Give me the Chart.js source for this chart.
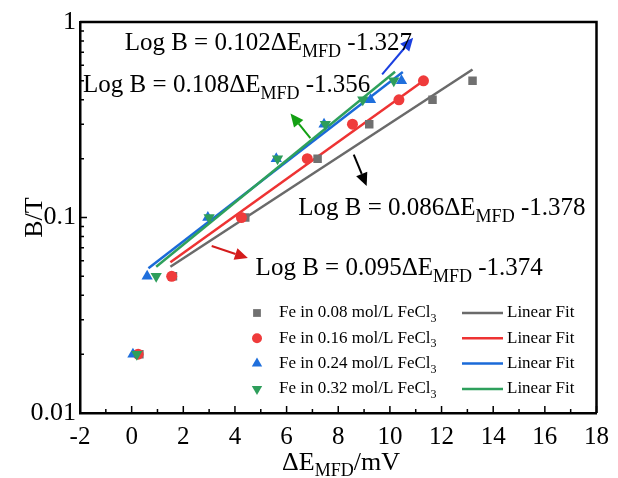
<!DOCTYPE html>
<html>
<head>
<meta charset="utf-8">
<script src="https://cdn.jsdelivr.net/npm/chart.js@4/dist/chart.umd.min.js"></script>
<style>
    html, body { margin: 0; padding: 0; background: #fff; }
    canvas { display: block; }
</style>
</head>
<body>
<canvas id="magChart" width="618" height="478"></canvas>
<script>
// Data
const concentrations = ['0.08', '0.16', '0.24', '0.32'];
const fieldB = [0.02, 0.05, 0.1, 0.2, 0.3, 0.4, 0.5];
const dE008 = [0.3, 1.6, 4.4, 7.2, 9.2, 11.65, 13.2];
const dE016 = [0.25, 1.55, 4.25, 6.8, 8.55, 10.35, 11.3];
const dE024 = [0.05, 0.6, 2.95, 5.6, 7.45, 9.25, 10.45];
const dE032 = [0.2, 0.95, 3.0, 5.65, 7.5, 8.95, 10.15];

// Linear fit end points (log B = a*dE + b)
const fitX008 = [1.5, 13.2], fitB008 = [0.056, 0.572];
const fitX016 = [1.5, 11.3], fitB016 = [0.059, 0.501];
const fitX024 = [0.65, 10.5], fitB024 = [0.055, 0.555];
const fitX032 = [0.95, 10.2], fitB032 = [0.056, 0.557];

const fitSlopes = ['0.086', '0.095', '0.102', '0.108'];
const fitIntercepts = ['-1.378', '-1.374', '-1.327', '-1.356'];

const xTicks = [-2, 0, 2, 4, 6, 8, 10, 12, 14, 16, 18];
const yTicks = [0.01, 0.1, 1];

const colors = ['#707070', '#ef3b3b', '#1f6fdc', '#2e9e5b'];
const lineColors = ['#6a6a6a', '#ee3333', '#1a6ad8', '#2ea05c'];
const arrowColors = ['#000', '#d41c1c', '#1a3fe0', '#13a013'];
const markers = ['rect', 'circle', 'triangle', 'triangle'];
const markerRot = [0, 0, 0, 180];
const markerRadius = [6, 5.5, 6.5, 6.5];

const SERIF = '"Liberation Serif", "Times New Roman", serif';

const toPts = (xs, ys) => xs.map((x, i) => ({ x: x, y: ys[i] }));

const scatterX = [dE008, dE016, dE024, dE032];
const fitXs = [fitX008, fitX016, fitX024, fitX032];
const fitBs = [fitB008, fitB016, fitB024, fitB032];

// Annotation anchors in data units (dE, B); arrows go from line toward text
const notes = [
    { idx: 0, x: 6.45, y: 0.103, tail: [8.6, 0.21], head: [9.1, 0.145] },
    { idx: 1, x: 4.8, y: 0.0508, tail: [3.1, 0.0715], head: [4.5, 0.062] },
    { idx: 2, x: -0.27, y: 0.72, tail: [9.7, 0.54], head: [10.9, 0.83] },
    { idx: 3, x: -1.88, y: 0.438, tail: [6.92, 0.255], head: [6.15, 0.34] }
];

const datasets = [];
for (let i = 0; i < 4; i++) {
    datasets.push({
        type: 'scatter',
        data: toPts(scatterX[i], fieldB),
        pointStyle: markers[i],
        rotation: markerRot[i],
        pointRadius: markerRadius[i],
        backgroundColor: colors[i],
        borderColor: colors[i],
        borderWidth: 0,
        order: 4 - i
    });
}
for (let i = 0; i < 4; i++) {
    datasets.push({
        type: 'line',
        data: toPts(fitXs[i], fitBs[i]),
        borderColor: lineColors[i],
        borderWidth: 2.5,
        pointRadius: 0,
        fill: false,
        order: 10 - i
    });
}

// draw text with a subscript part
function richText(ctx, x, y, parts, size, subSize, subShift) {
    let cx = x;
    parts.forEach(p => {
        ctx.font = (p.sub ? subSize : size) + 'px ' + SERIF;
        ctx.fillText(p.t, cx, y + (p.sub ? subShift : 0));
        cx += ctx.measureText(p.t).width;
    });
    return cx;
}

function richWidth(ctx, parts, size, subSize) {
    let w = 0;
    parts.forEach(p => {
        ctx.font = (p.sub ? subSize : size) + 'px ' + SERIF;
        w += ctx.measureText(p.t).width;
    });
    return w;
}

function arrow(ctx, x1, y1, x2, y2, color) {
    const ang = Math.atan2(y2 - y1, x2 - x1);
    const hl = 13, hw = 6;
    const bx = x2 - hl * Math.cos(ang), by = y2 - hl * Math.sin(ang);
    ctx.strokeStyle = color;
    ctx.fillStyle = color;
    ctx.lineWidth = 2;
    ctx.beginPath();
    ctx.moveTo(x1, y1);
    ctx.lineTo(bx, by);
    ctx.stroke();
    ctx.beginPath();
    ctx.moveTo(x2, y2);
    ctx.lineTo(bx + hw * Math.sin(ang), by - hw * Math.cos(ang));
    ctx.lineTo(bx - hw * Math.sin(ang), by + hw * Math.cos(ang));
    ctx.closePath();
    ctx.fill();
}

const decorPlugin = {
    id: 'decor',
    afterDraw(chart) {
        const ctx = chart.ctx;
        const a = chart.chartArea;
        const xs = chart.scales.x, ys = chart.scales.y;
        ctx.save();

        // frame top / right
        ctx.strokeStyle = '#000';
        ctx.lineWidth = 2.5;
        ctx.beginPath();
        ctx.moveTo(a.left, a.top);
        ctx.lineTo(a.right, a.top);
        ctx.lineTo(a.right, a.bottom);
        ctx.stroke();

        // inside ticks
        ctx.lineWidth = 1.5;
        ctx.beginPath();
        for (let v = -2; v <= 18; v++) {
            const px = xs.getPixelForValue(v);
            const len = v % 2 === 0 ? 7 : 4;
            ctx.moveTo(px, a.bottom);
            ctx.lineTo(px, a.bottom - len);
        }
        for (let d = 0.01; d < 1; d *= 10) {
            for (let m = 1; m <= 10; m++) {
                const py = ys.getPixelForValue(d * m);
                const len = (m === 1 || m === 10) ? 7 : 4;
                ctx.moveTo(a.left, py);
                ctx.lineTo(a.left + len, py);
            }
        }
        ctx.stroke();

        // axis titles
        ctx.fillStyle = '#000';
        ctx.textBaseline = 'alphabetic';
        const xt = [{ t: '\u0394E' }, { t: 'MFD', sub: true }, { t: '/mV' }];
        const xw = richWidth(ctx, xt, 26, 18);
        richText(ctx, 341 - xw / 2, 470, xt, 26, 18, 6);

        ctx.save();
        ctx.translate(42, (a.top + a.bottom) / 2);
        ctx.rotate(-Math.PI / 2);
        ctx.font = '26px ' + SERIF;
        ctx.textAlign = 'center';
        ctx.fillText('B/T', 0, 0);
        ctx.restore();

        // equations and arrows
        notes.forEach(n => {
            arrow(ctx,
                xs.getPixelForValue(n.tail[0]), ys.getPixelForValue(n.tail[1]),
                xs.getPixelForValue(n.head[0]), ys.getPixelForValue(n.head[1]),
                arrowColors[n.idx]);
            ctx.fillStyle = '#000';
            richText(ctx, xs.getPixelForValue(n.x), ys.getPixelForValue(n.y), [
                { t: 'Log B = ' + fitSlopes[n.idx] + '\u0394E' },
                { t: 'MFD', sub: true },
                { t: ' ' + fitIntercepts[n.idx] }
            ], 25, 18, 7);
        });

        // legend
        const lx = a.left + 177, ly = a.bottom - 100, rowH = 25.3;
        for (let i = 0; i < 4; i++) {
            const y = ly + i * rowH;
            ctx.fillStyle = colors[i];
            Chart.helpers.drawPoint(ctx, {
                pointStyle: markers[i], radius: markerRadius[i] - 0.5,
                rotation: markerRot[i], borderWidth: 0
            }, lx, y);
            ctx.fillStyle = '#000';
            ctx.textBaseline = 'middle';
            richText(ctx, lx + 22, y, [
                { t: 'Fe in ' + concentrations[i] + ' mol/L FeCl' },
                { t: '3', sub: true }
            ], 17, 12, 6);
            ctx.strokeStyle = lineColors[i];
            ctx.lineWidth = 2.5;
            ctx.beginPath();
            ctx.moveTo(lx + 205, y);
            ctx.lineTo(lx + 246, y);
            ctx.stroke();
            ctx.fillStyle = '#000';
            ctx.font = '17px ' + SERIF;
            ctx.fillText('Linear Fit', lx + 250, y);
        }
        ctx.restore();
    }
};

new Chart(document.getElementById('magChart'), {
    data: { datasets: datasets },
    options: {
        responsive: false,
        devicePixelRatio: 1,
        animation: false,
        layout: { padding: { left: 0, right: 18, top: 22, bottom: 0 } },
        plugins: { legend: { display: false }, tooltip: { enabled: false } },
        scales: {
            x: {
                type: 'linear',
                min: -2, max: 18,
                afterBuildTicks: (s) => { s.ticks = xTicks.map(v => ({ value: v })); },
                afterFit: (s) => { s.height = 65; },
                grid: { display: false, drawTicks: false },
                border: { display: true, color: '#000', width: 2.5 },
                ticks: { color: '#000', padding: 9, font: { family: SERIF, size: 25 }, maxRotation: 0 }
            },
            y: {
                type: 'logarithmic',
                min: 0.01, max: 1,
                afterBuildTicks: (s) => { s.ticks = yTicks.map(v => ({ value: v })); },
                afterFit: (s) => { s.width = 80; },
                grid: { display: false, drawTicks: false },
                border: { display: true, color: '#000', width: 2.5 },
                ticks: {
                    color: '#000', padding: 4, font: { family: SERIF, size: 26 },
                    callback: (v) => String(v)
                }
            }
        }
    },
    plugins: [decorPlugin]
});
</script>
</body>
</html>
